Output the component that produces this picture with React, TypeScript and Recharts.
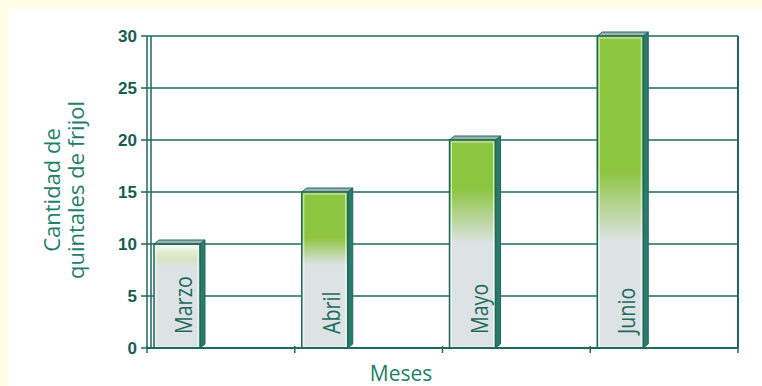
import { BarChart, Bar, XAxis, YAxis, CartesianGrid, LabelList, Cell } from 'recharts'

const meses = ['Marzo', 'Abril', 'Mayo', 'Junio']
const quintales = [10, 15, 20, 30]
const yTicks = [0, 5, 10, 15, 20, 25, 30]

const data = meses.map((mes, i) => ({ mes, quintales: quintales[i] }))

const TEAL = '#1c6a5c'
const LABEL = '#1f7f67'
const GREEN = '#8cc53f'
const GRAY = '#dde3e5'

// where the green fades into gray, per bar (fraction of bar height)
const fades = [
  { top: '#b3d476', a: 0, b: 0.22 },
  { top: GREEN, a: 0.29, b: 0.47 },
  { top: GREEN, a: 0.23, b: 0.5 },
  { top: GREEN, a: 0.43, b: 0.66 },
]

function Bar3D(props: any) {
  const { x, y, width, height, index } = props
  if (height <= 0) return null
  const dx = 5
  const dy = 4
  return (
    <g>
      <polygon
        points={`${x},${y} ${x + dx},${y - dy} ${x + width + dx},${y - dy} ${x + width},${y}`}
        fill="#9fb3ae"
        stroke={TEAL}
        strokeWidth={1}
      />
      <polygon
        points={`${x + width},${y} ${x + width + dx},${y - dy} ${x + width + dx},${y + height - dy} ${x + width},${y + height}`}
        fill="#2b7a6a"
        stroke={TEAL}
        strokeWidth={1}
      />
      <rect x={x} y={y} width={width} height={height} fill={`url(#fade${index})`} stroke={TEAL} strokeWidth={1.5} />
      <rect x={x + 2} y={y + 2} width={width - 4} height={height - 3} fill="none" stroke="#ffffff" strokeOpacity={0.7} strokeWidth={1} />
    </g>
  )
}

function MesLabel(props: any) {
  const { x, y, width, height, value } = props
  const bx = x + width - 8
  const by = y + height - 14
  return (
    <text
      transform={`translate(${bx},${by}) rotate(-90) scale(0.82,1)`}
      fill={TEAL}
      fontFamily="'Open Sans', sans-serif"
      fontSize={24}
      textAnchor="start"
    >
      {value}
    </text>
  )
}

// tick marks sit on the borders between months, not at their centres
function BorderTick(props: any) {
  const { x, y, payload, index } = props
  const half = payload?.offset ?? 0
  const last = index === meses.length - 1
  return (
    <g>
      <line x1={x - half} x2={x - half} y1={y - 2} y2={y + 5} stroke={TEAL} strokeWidth={1.5} />
      {last && <line x1={x + half} x2={x + half} y1={y - 2} y2={y + 5} stroke={TEAL} strokeWidth={1.5} />}
    </g>
  )
}

export default function App() {
  return (
    <div style={{ position: 'absolute', left: 0, top: 0, width: 762, height: 386, background: '#fffde6' }}>
      <div style={{ position: 'absolute', left: 8, top: 9, width: 754, height: 377, background: '#ffffff' }} />
      <div style={{ position: 'absolute', left: 0, top: 0 }}>
        <BarChart
          width={762}
          height={386}
          data={data}
          margin={{ top: 36, right: 23, bottom: 28, left: 107 }}
          barCategoryGap={0}
          barGap={0}
        >
          <defs>
            {fades.map((f, i) => (
              <linearGradient key={i} id={`fade${i}`} x1="0" y1="0" x2="0" y2="1">
                <stop offset={0} stopColor={f.top} />
                <stop offset={f.a} stopColor={GREEN} stopOpacity={i === 0 ? 0 : 1} />
                <stop offset={f.b} stopColor={GRAY} />
                <stop offset={1} stopColor={GRAY} />
              </linearGradient>
            ))}
          </defs>
          <CartesianGrid vertical={true} verticalPoints={[151]} stroke={TEAL} strokeWidth={1.5} />
          <XAxis
            dataKey="mes"
            height={10}
            interval={0}
            tickLine={false}
            tickSize={0}
            tickMargin={0}
            tick={<BorderTick />}
            axisLine={{ stroke: TEAL, strokeWidth: 2 }}
            label={{
              content: () => (
                <text x={401} y={381} textAnchor="middle" fill={LABEL} fontFamily="'Open Sans', sans-serif" fontSize={21}>
                  Meses
                </text>
              ),
            }}
          />
          <YAxis
            domain={[0, 30]}
            ticks={yTicks}
            width={40}
            tickSize={6}
            tickMargin={4}
            axisLine={{ stroke: TEAL, strokeWidth: 1.5 }}
            tickLine={{ stroke: TEAL, strokeWidth: 1.5 }}
            tick={{ fill: '#155e50', fontFamily: "'Liberation Sans', Arial, sans-serif", fontWeight: 700, fontSize: 17 }}
            label={{
              content: () => (
                <text
                  transform="translate(0,190) rotate(-90)"
                  textAnchor="middle"
                  fill={LABEL}
                  fontFamily="'Open Sans', sans-serif"
                  fontSize={22}
                >
                  <tspan x={0} y={60}>Cantidad de</tspan>
                  <tspan x={0} y={84}>quintales de frijol</tspan>
                </text>
              ),
            }}
          />
          <YAxis
            yAxisId="r"
            orientation="right"
            domain={[0, 30]}
            width={1}
            tick={false}
            tickLine={false}
            axisLine={{ stroke: TEAL, strokeWidth: 2 }}
          />
          <Bar dataKey="quintales" barSize={46} shape={<Bar3D />} isAnimationActive={false}>
            {data.map((d, i) => (
              <Cell key={d.mes} fill={`url(#fade${i})`} />
            ))}
            <LabelList dataKey="mes" content={<MesLabel />} />
          </Bar>
          <Bar dataKey={() => 0} barSize={88} fill="none" isAnimationActive={false} />
        </BarChart>
      </div>
    </div>
  )
}
